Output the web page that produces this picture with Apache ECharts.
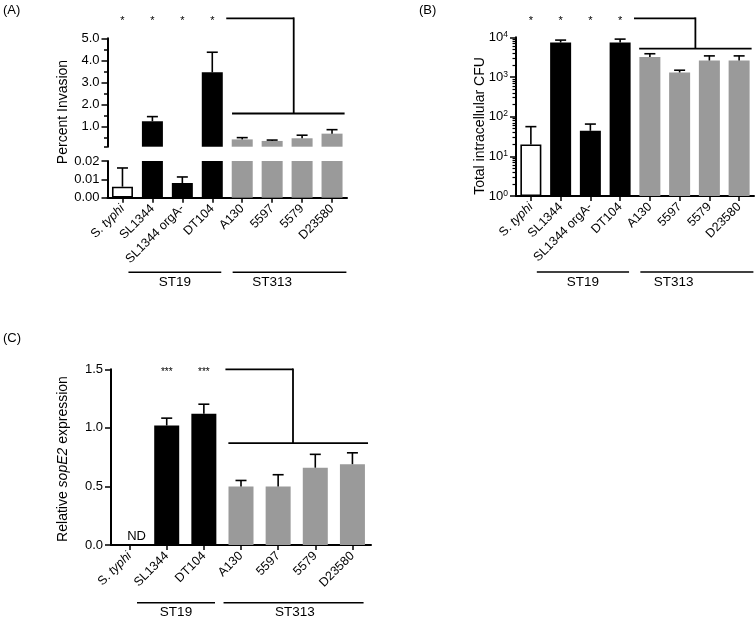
<!DOCTYPE html>
<html><head><meta charset="utf-8">
<script src="https://cdn.jsdelivr.net/npm/echarts@6/dist/echarts.min.js"></script>
<style>html,body{margin:0;padding:0;background:#fff}#c{width:756px;height:625px}</style>
</head><body><div id="c"></div>
<script>
// ---------- data ----------
const categoriesAB = ['S. typhi', 'SL1344', 'SL1344 orgA-', 'DT104', 'A130', '5597', '5579', 'D23580'];
const groupsAB = ['typhi', 'ST19', 'ST19', 'ST19', 'ST313', 'ST313', 'ST313', 'ST313'];
const invasionMean = [0.006, 1.25, 0.008, 3.46, 0.43, 0.36, 0.48, 0.69];
const invasionSEM = [0.0102, 0.21, 0.0033, 0.91, 0.08, 0.04, 0.14, 0.18];
const cfuMean = [20, 7400, 44, 7400, 3200, 1300, 2600, 2600];
const cfuSEM = [36, 1100, 21, 1600, 650, 180, 800, 800];
const starsAB = ['*', '*', '*', '*', '', '', '', ''];

const categoriesC = ['S. typhi', 'SL1344', 'DT104', 'A130', '5597', '5579', 'D23580'];
const groupsC = ['typhi', 'ST19', 'ST19', 'ST313', 'ST313', 'ST313', 'ST313'];
const sopE2Mean = [null, 1.02, 1.12, 0.50, 0.50, 0.66, 0.69];
const sopE2SEM = [null, 0.063, 0.082, 0.051, 0.10, 0.114, 0.097];
const starsC = ['', '***', '***', '', '', '', ''];
const notDetected = ['ND', '', '', '', '', '', ''];

const invasionHighTicks = [1, 2, 3, 4, 5];
const invasionHighMinor = [0.1, 0.5, 1.5, 2.5, 3.5, 4.5];
const invasionLowTicks = [0, 0.01, 0.02];
const cfuTicks = [1, 10, 100, 1000, 10000];
const cfuMinor = [2,3,4,5,6,7,8,9,20,30,40,50,60,70,80,90,200,300,400,500,600,700,800,900,2000,3000,4000,5000,6000,7000,8000,9000];
const sopE2Ticks = [0, 0.5, 1.0, 1.5];
const bracketLevel = [1.6, 5200, 0.87];   // A, B, C
const groupNames = ['ST19', 'ST313'];

// ---------- chart ----------
const F = 'Liberation Sans, Arial, Helvetica, sans-serif';
const chart = echarts.init(document.getElementById('c'), null, {renderer: 'canvas'});

function styleFor(g) {
  if (g === 'typhi') return {color: '#ffffff', borderColor: '#000', borderWidth: 1.6};
  if (g === 'ST19') return {color: '#000000'};
  return {color: '#9a9a9a'};
}
function barData(vals, groups, keep) {
  return vals.map((v, i) => (v == null || (keep && !keep(v))) ? '-' : {value: v, itemStyle: styleFor(groups[i])});
}
function errData(means, sems, keep) {
  const out = [];
  means.forEach((m, i) => { if (m != null && sems[i] != null && (!keep || keep(m))) out.push([i, m, sems[i]]); });
  return out;
}
function errRender(params, api) {
  const i = api.value(0), m = api.value(1), e = api.value(2);
  const p0 = api.coord([i, m]), p1 = api.coord([i, m + e]);
  const st = {stroke: '#000', lineWidth: 1.6};
  return {type: 'group', children: [
    {type: 'line', shape: {x1: p0[0], y1: p0[1], x2: p1[0], y2: p1[1]}, style: st},
    {type: 'line', shape: {x1: p1[0] - 5.5, y1: p1[1], x2: p1[0] + 5.5, y2: p1[1]}, style: st}
  ]};
}
const CF = 12.5;
const catFmt = v => v === 'S. typhi' ? '{r|S. }{i|typhi}' : v;
const catLabel = {
  show: true, rotate: 45, interval: 0, fontSize: CF, color: '#000', fontFamily: F, margin: 9,
  formatter: catFmt,
  rich: {r: {fontSize: CF, fontFamily: F, color: '#000'}, i: {fontSize: CF, fontFamily: F, color: '#000', fontStyle: 'italic'}}
};
const TF = 13;
const axLine = {show: true, lineStyle: {color: '#000', width: 2}};
const catX = (cats, gi) => ({
  type: 'category', gridIndex: gi, data: cats, boundaryGap: true,
  axisLine: axLine, axisTick: {show: true, alignWithLabel: true, length: 5, lineStyle: {color: '#000', width: 1.5}},
  axisLabel: catLabel, splitLine: {show: false}
});
const tickLab = (fmt, vals) => ({show: true, fontSize: TF, color: '#000', fontFamily: F, margin: 8, formatter: fmt, customValues: vals});

const option = {
  animation: false,
  backgroundColor: '#fff',
  grid: [
    {left: 107.5, top: 38.3, width: 239.5, height: 108.4, outerBoundsMode: 'none', containLabel: false},
    {left: 107.5, top: 161, width: 239.5, height: 36.7, outerBoundsMode: 'none', containLabel: false},
    {left: 516, top: 37.3, width: 238, height: 158.7, outerBoundsMode: 'none', containLabel: false},
    {left: 111, top: 369.3, width: 260, height: 175.7, outerBoundsMode: 'none', containLabel: false}
  ],
  xAxis: [
    {type: 'category', gridIndex: 0, data: categoriesAB, show: false},
    catX(categoriesAB, 1),
    catX(categoriesAB, 2),
    catX(categoriesC, 3)
  ],
  yAxis: [
    {type: 'value', gridIndex: 0, position: 'left', min: 0.1, max: 5, axisLine: axLine,
     axisTick: {show: true, length: 6, customValues: invasionHighTicks, lineStyle: {color: '#000', width: 1.5}},
     axisLabel: tickLab(v => v.toFixed(1), invasionHighTicks), splitLine: {show: false}},
    {type: 'value', gridIndex: 0, position: 'left', min: 0.1, max: 5, axisLine: {show: false},
     axisTick: {show: true, length: 3.5, customValues: invasionHighMinor, lineStyle: {color: '#000', width: 1.5}},
     axisLabel: {show: false}, splitLine: {show: false}},
    {type: 'value', gridIndex: 1, position: 'left', min: 0, max: 0.02, interval: 0.01, axisLine: axLine,
     axisTick: {show: true, length: 6, lineStyle: {color: '#000', width: 1.5}},
     axisLabel: {show: true, fontSize: TF, color: '#000', fontFamily: F, margin: 8, formatter: v => v.toFixed(2)},
     splitLine: {show: false}},
    {type: 'log', gridIndex: 2, position: 'left', logBase: 10, min: 1, max: 10000, axisLine: axLine,
     axisTick: {show: true, length: 6, customValues: cfuTicks, lineStyle: {color: '#000', width: 1.5}},
     axisLabel: {show: true, fontSize: TF, color: '#000', fontFamily: F, margin: 8, customValues: cfuTicks,
       formatter: v => '{b|10}{s|' + Math.round(Math.log10(v)) + '}',
       rich: {b: {fontSize: TF, fontFamily: F, color: '#000'}, s: {fontSize: 8.5, fontFamily: F, color: '#000', verticalAlign: 'top', padding: [0, 0, 5, 0]}}},
     splitLine: {show: false}},
    {type: 'log', gridIndex: 2, position: 'left', logBase: 10, min: 1, max: 10000, axisLine: {show: false},
     axisTick: {show: true, length: 3.5, customValues: cfuMinor, lineStyle: {color: '#000', width: 1.2}},
     axisLabel: {show: false}, splitLine: {show: false}},
    {type: 'value', gridIndex: 3, position: 'left', min: 0, max: 1.5, interval: 0.5, axisLine: axLine,
     axisTick: {show: true, length: 6, lineStyle: {color: '#000', width: 1.5}},
     axisLabel: {show: true, fontSize: TF, color: '#000', fontFamily: F, margin: 8, formatter: v => v.toFixed(1)},
     splitLine: {show: false}}
  ],
  series: [
    {type: 'bar', xAxisIndex: 0, yAxisIndex: 0, barWidth: 21, clip: true,
     data: barData(invasionMean, groupsAB, v => v >= 0.1)},
    {type: 'custom', xAxisIndex: 0, yAxisIndex: 0, renderItem: errRender, z: 5,
     data: errData(invasionMean, invasionSEM, v => v >= 0.1)},
    {type: 'bar', xAxisIndex: 1, yAxisIndex: 2, barWidth: 21, clip: true,
     data: barData(invasionMean, groupsAB)},
    {type: 'custom', xAxisIndex: 1, yAxisIndex: 2, renderItem: errRender, z: 5,
     data: errData(invasionMean, invasionSEM, v => v < 0.02)},
    {type: 'bar', xAxisIndex: 2, yAxisIndex: 3, barWidth: 21, clip: true,
     data: barData(cfuMean, groupsAB)},
    {type: 'custom', xAxisIndex: 2, yAxisIndex: 3, renderItem: errRender, z: 5,
     data: errData(cfuMean, cfuSEM)},
    {type: 'bar', xAxisIndex: 3, yAxisIndex: 5, barWidth: 25, clip: true,
     data: barData(sopE2Mean, groupsC)},
    {type: 'custom', xAxisIndex: 3, yAxisIndex: 5, renderItem: errRender, z: 5,
     data: errData(sopE2Mean, sopE2SEM)}
  ]
};
chart.setOption(option);

// ---------- annotations (positions from the axes) ----------
const X = (ax, i) => chart.convertToPixel({xAxisIndex: ax}, i);
const Y = (ax, v) => chart.convertToPixel({yAxisIndex: ax}, v);
const G = [];
const LW = 1.8;
function line(x1, y1, x2, y2, w) {
  G.push({type: 'line', shape: {x1, y1, x2, y2}, style: {stroke: '#000', lineWidth: w || LW}, z: 10});
}
function text(x, y, str, o) {
  o = o || {};
  G.push({type: 'text', x, y, rotation: o.rot || 0, z: 10, style: Object.assign({
    text: str, fontSize: o.size || 12, fontFamily: F, fill: '#000',
    align: o.align || 'center', verticalAlign: o.va || 'middle'}, o.rich ? {rich: o.rich} : {})});
}
function panel(xa, yaTop, yaBottom, stars, bracketVal, topY, starY, vFrac, lowerStart, grpY, st313Shift, cats, starSize) {
  const band = X(xa, 1) - X(xa, 0);
  const n = cats.length;
  stars.forEach((s, i) => { if (s) text(X(xa, i), starY, s, {size: starSize}); });
  const iA = cats.indexOf('A130'), iD = cats.indexOf('DT104');
  const xs = (X(xa, iD) + X(xa, iA)) / 2 - 1 + (n === 7 ? 4 : 0);
  const xv = X(xa, iA + 1) + vFrac * band;
  const yl = Y(yaTop, bracketVal);
  line(xs, topY, xv, topY);
  line(xv, topY - 0.9, xv, yl);
  line(X(xa, iA) - lowerStart * band, yl, X(xa, n - 1) + 0.42 * band, yl);
  // group lines
  const i19 = cats.indexOf('SL1344');
  const a0 = X(xa, i19) - 0.8 * band, a1 = X(xa, iD) + 0.3 * band;
  line(a0, grpY, a1, grpY, 1.5);
  text((a0 + a1) / 2, grpY + 10, groupNames[0], {size: 13.5});
  const b0 = X(xa, iA) - (n === 7 ? 0.47 : 0.32) * band, b1 = X(xa, n - 1) + (n === 7 ? 0.3 : 0.48) * band;
  line(b0, grpY, b1, grpY, 1.5);
  text(X(xa, iA) + st313Shift * band, grpY + 10, groupNames[1], {size: 13.5});
}
// Panel A
panel(1, 0, 2, starsAB, bracketLevel[0], Y(0, 5) - 20, Y(0, 5) - 17, 0.72, 0.34, Y(2, 0) + 74.5, 1.0, categoriesAB, 11);
// Panel B
panel(2, 3, 3, starsAB, bracketLevel[1], Y(3, 10000) - 19, Y(3, 10000) - 16, 0.53, 0.36, Y(3, 1) + 76, 0.8, categoriesAB, 11);
// Panel C
panel(3, 5, 5, starsC, bracketLevel[2], Y(5, 1.5), Y(5, 1.5) + 3, 0.4, 0.34, Y(5, 0) + 57.7, 1.45, categoriesC, 10);
notDetected.forEach((s, i) => { if (s) text(X(3, i) + 7, Y(5, 0) - 9, s, {size: 13}); });

// titles and panel letters
text(63, 112, 'Percent Invasion', {size: 14, rot: Math.PI / 2});
text(480, 126, 'Total intracellular CFU', {size: 14, rot: Math.PI / 2});
text(63, 459, 'Relative {i|sopE2} expression', {size: 14, rot: Math.PI / 2,
  rich: {i: {fontSize: 14, fontFamily: F, fill: '#000', fontStyle: 'italic'}}});
text(3, 10, '(A)', {size: 13, align: 'left'});
text(419, 10, '(B)', {size: 13, align: 'left'});
text(3, 338, '(C)', {size: 13, align: 'left'});

chart.setOption({graphic: G});
</script>
</body></html>
